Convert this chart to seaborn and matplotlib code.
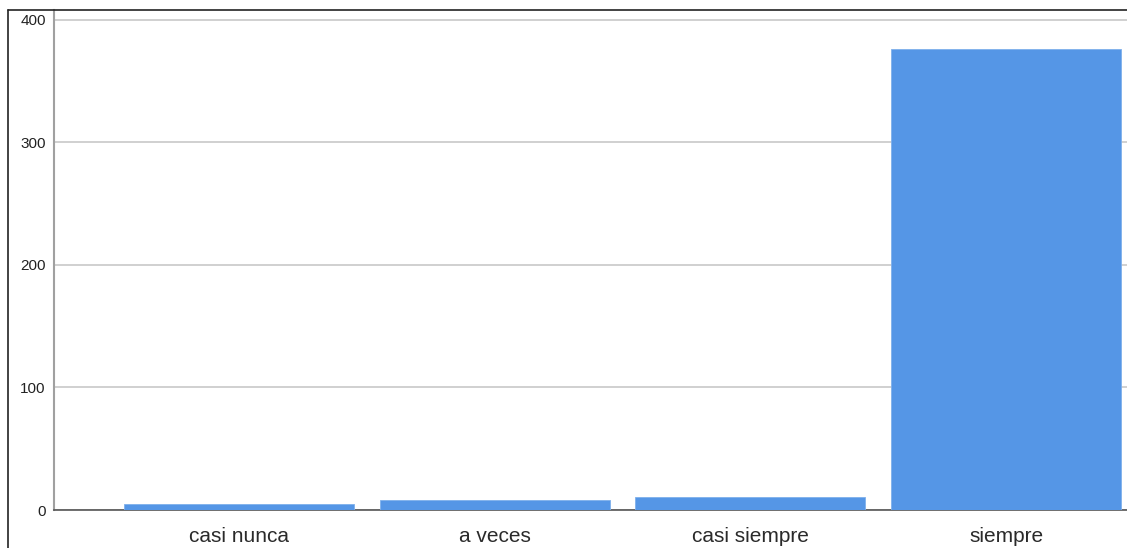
import matplotlib
matplotlib.use("Agg")
import matplotlib.pyplot as plt
import seaborn as sns
import pandas as pd
from matplotlib.lines import Line2D

# Response categories and counts
categories = ["casi nunca", "a veces", "casi siempre", "siempre"]
counts = [5, 8, 11, 376]
y_ticks = [0, 100, 200, 300, 400]

df = pd.DataFrame({"categoria": categories, "frecuencia": counts})

sns.set_theme(style="white")
plt.rcParams["font.family"] = ["Liberation Sans", "DejaVu Sans"]

fig = plt.figure(figsize=(11.27, 5.48), dpi=100)
W, H = 1127, 548
ax = fig.add_axes([54 / W, 38 / H, (W - 54) / W, 500 / H])

sns.barplot(data=df, x="categoria", y="frecuencia", color="#5596E6",
            width=0.9, saturation=1, ax=ax, zorder=3,
            edgecolor="#7fb0ec", linewidth=0.6)

ax.set_ylim(0, 408)
ax.set_xlim(-0.724, 3.473)
ax.set_yticks(y_ticks)
ax.set_yticklabels([str(t) for t in y_ticks])
ax.yaxis.grid(True, color="#c8c8c8", linewidth=1.2, zorder=0)
ax.set_axisbelow(True)
ax.set_xlabel("")
ax.set_ylabel("")

ax.tick_params(axis="y", length=0, pad=6, labelsize=11, labelcolor="#222222")
ax.tick_params(axis="x", length=0, pad=12, labelsize=15, labelcolor="#2a2a2a")

for side in ["top", "right"]:
    ax.spines[side].set_visible(False)
ax.spines["left"].set_color("#a0a0a0")
ax.spines["left"].set_linewidth(1.5)
ax.spines["bottom"].set_color("#555555")
ax.spines["bottom"].set_linewidth(1.2)

# outer frame (left and top edges visible in the reference)
fig.add_artist(Line2D([8 / W, 8 / W], [0, 1 - 10 / H], transform=fig.transFigure,
                      color="#222222", linewidth=1.2))
fig.add_artist(Line2D([8 / W, 1], [1 - 10 / H, 1 - 10 / H], transform=fig.transFigure,
                      color="#222222", linewidth=1.2))

fig.savefig("out.png", dpi=100)
